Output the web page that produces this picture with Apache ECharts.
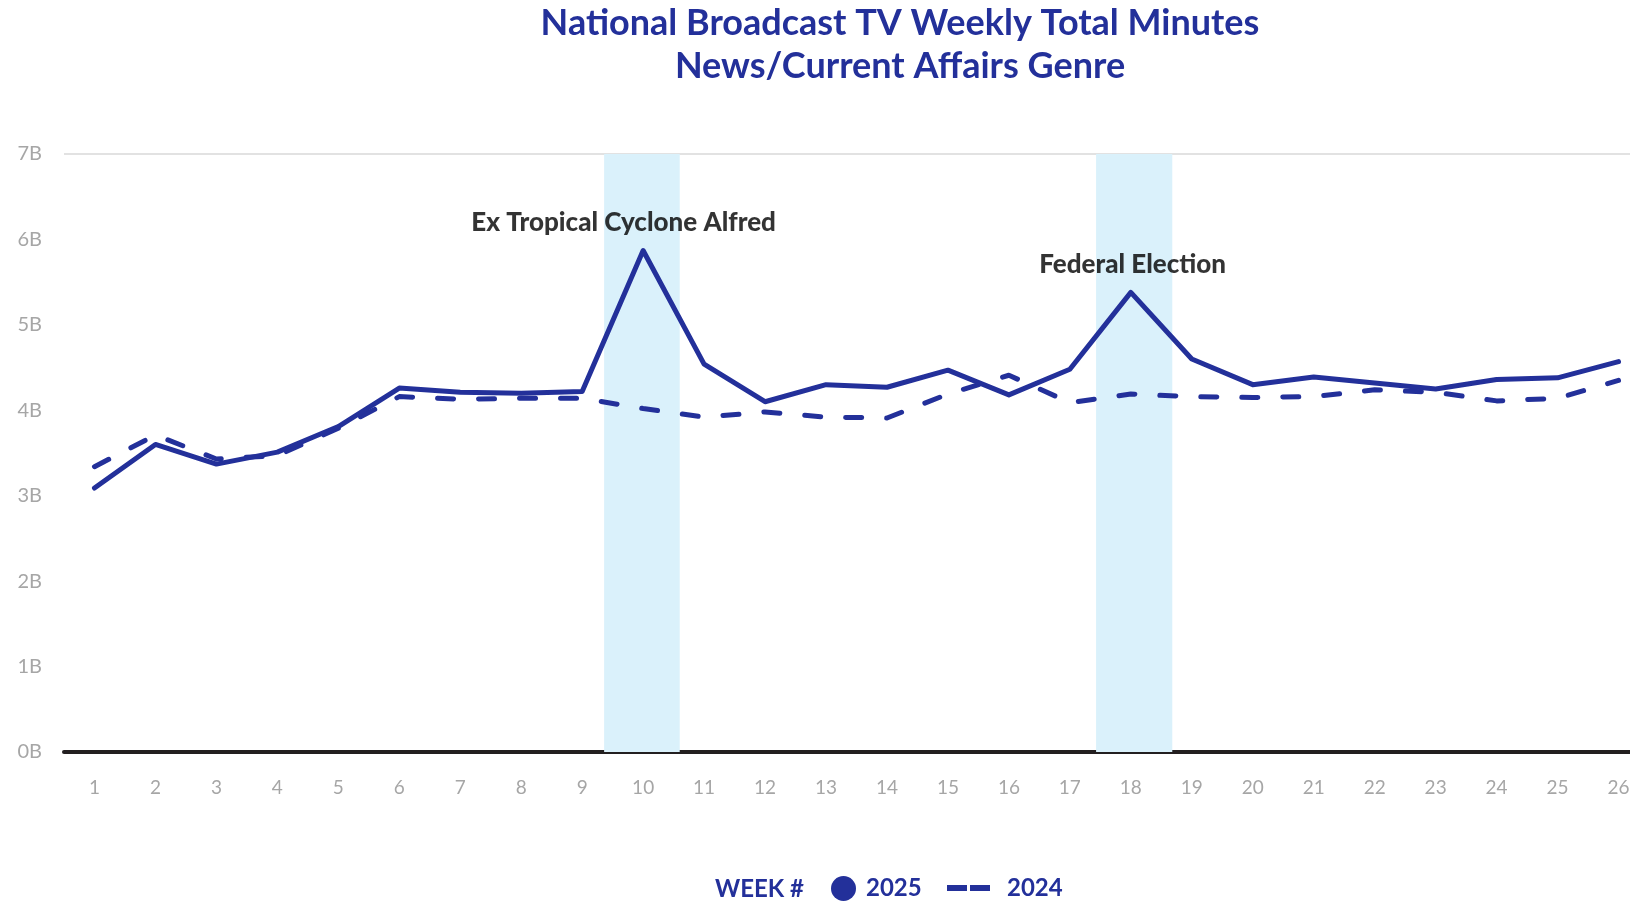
<!DOCTYPE html>
<html>
<head>
<meta charset="utf-8">
<script src="https://cdn.jsdelivr.net/npm/echarts@6/dist/echarts.min.js"></script>
<style>
html,body{margin:0;padding:0;background:#fff;}
#chart{width:1630px;height:902px;}
</style>
</head>
<body>
<div id="chart"></div>
<script>
// ---- data ----
const weeks = ['1','2','3','4','5','6','7','8','9','10','11','12','13','14','15','16','17','18','19','20','21','22','23','24','25','26'];
const minutes2025 = [3.09,3.60,3.37,3.51,3.81,4.26,4.21,4.20,4.22,5.87,4.54,4.10,4.30,4.27,4.47,4.18,4.48,5.38,4.60,4.30,4.39,4.32,4.25,4.36,4.38,4.57];
const minutes2024 = [3.34,3.71,3.43,3.47,3.79,4.16,4.13,4.14,4.14,4.02,3.92,3.98,3.92,3.91,4.19,4.41,4.09,4.19,4.16,4.15,4.16,4.24,4.21,4.11,4.14,4.35];
const yTicks = [0,1,2,3,4,5,6,7];
const bandStart = [9.36, 17.43];
const bandEnd = [10.60, 18.68];
const eventNames = ['Ex Tropical Cyclone Alfred', 'Federal Election'];
const eventX = [9.68, 18.03];
const eventY = [6.20, 5.71];

const BLUE = '#23309a';
const FONT = 'Lato, "Noto Sans", sans-serif';

const chart = echarts.init(document.getElementById('chart'), null, {renderer:'canvas'});

const option = {
  animation: false,
  backgroundColor: '#ffffff',
  graphic: [
    {type:'text', x: 900, y: 23, style:{text:'National Broadcast TV Weekly Total Minutes', fill: BLUE, font: 'bold 36px ' + FONT, textAlign:'center', textVerticalAlign:'middle'}},
    {type:'text', x: 900, y: 66, style:{text:'News/Current Affairs Genre', fill: BLUE, font: 'bold 36px ' + FONT, textAlign:'center', textVerticalAlign:'middle'}},
    {type:'text', x: 715, y: 889, style:{text:'WEEK #', fill: BLUE, font: 'bold 24px ' + FONT, textAlign:'left', textVerticalAlign:'middle'}}
  ],
  grid: {left: 64, top: 154, right: -19, bottom: 150, containLabel: false, outerBoundsMode: 'none'},
  legend: [
    {data:[{name:'2025', icon:'circle'}], left: 831, top: 876, padding: 0, itemWidth: 25, itemHeight: 25, selectedMode:false,
     textStyle:{color: BLUE, fontFamily: FONT, fontWeight:'bold', fontSize: 24, padding:[0,0,0,5]}},
    {data:[{name:'2024', icon:'path://M0,0h20v6h-20z M23,0h20v6h-20z'}], left: 947, top: 876, padding: 0, itemWidth: 43, itemHeight: 6, selectedMode:false,
     itemStyle:{color: BLUE}, lineStyle:{width:0},
     textStyle:{color: BLUE, fontFamily: FONT, fontWeight:'bold', fontSize: 24, padding:[0,0,0,12]}}
  ],
  xAxis: [
    {type:'category', data: weeks, boundaryGap: true,
     axisLine:{show:true, lineStyle:{color:'#231f20', width:4}},
     axisTick:{show:false},
     axisLabel:{color:'#a6a6a6', fontFamily: FONT, fontSize: 19, margin: 26, interval: 0},
     splitLine:{show:false}},
    {type:'value', min: 0.5, max: 26.5, show: false}
  ],
  yAxis: {type:'value', min: yTicks[0], max: yTicks[yTicks.length-1], interval: 1,
    axisLine:{show:false}, axisTick:{show:false},
    axisLabel:{color:'#a6a6a6', fontFamily: FONT, fontSize: 20, margin: 22, formatter: '{value}B'},
    splitLine:{show:true, lineStyle:{color:['rgba(0,0,0,0)','rgba(0,0,0,0)','rgba(0,0,0,0)','rgba(0,0,0,0)','rgba(0,0,0,0)','rgba(0,0,0,0)','rgba(0,0,0,0)','#d9d9d9'], width: 1.5}}
  },
  series: [
    {name:'bands', type:'line', xAxisIndex:1, data: [], silent: true,
     markArea: {silent:true, itemStyle:{color:'#daf1fb'},
       data: bandStart.map((s,i)=>[{xAxis:s}, {xAxis:bandEnd[i]}])}
    },
    {name:'2024', type:'line', data: minutes2024, symbol:'none', smooth:false, z: 3,
     lineStyle:{color: BLUE, width: 5, type:[16,25], cap:'round', join:'round'},
     itemStyle:{color: BLUE}},
    {name:'2025', type:'line', data: minutes2025, symbol:'none', smooth:false, z: 4,
     lineStyle:{color: BLUE, width: 5, type:'solid', cap:'round', join:'round'},
     itemStyle:{color: BLUE}},
    {name:'events', type:'scatter', xAxisIndex:1, symbolSize: 1, silent: true,
     itemStyle:{color:'rgba(0,0,0,0)'},
     data: eventNames.map((n,i)=>[eventX[i], eventY[i], n]),
     label:{show:true, position:'inside', formatter: p => p.data[2], color:'#000000', textBorderWidth:0, fontFamily: FONT, fontWeight:900, fontSize: 26}
    }
  ]
};
chart.setOption(option);
</script>
</body>
</html>
